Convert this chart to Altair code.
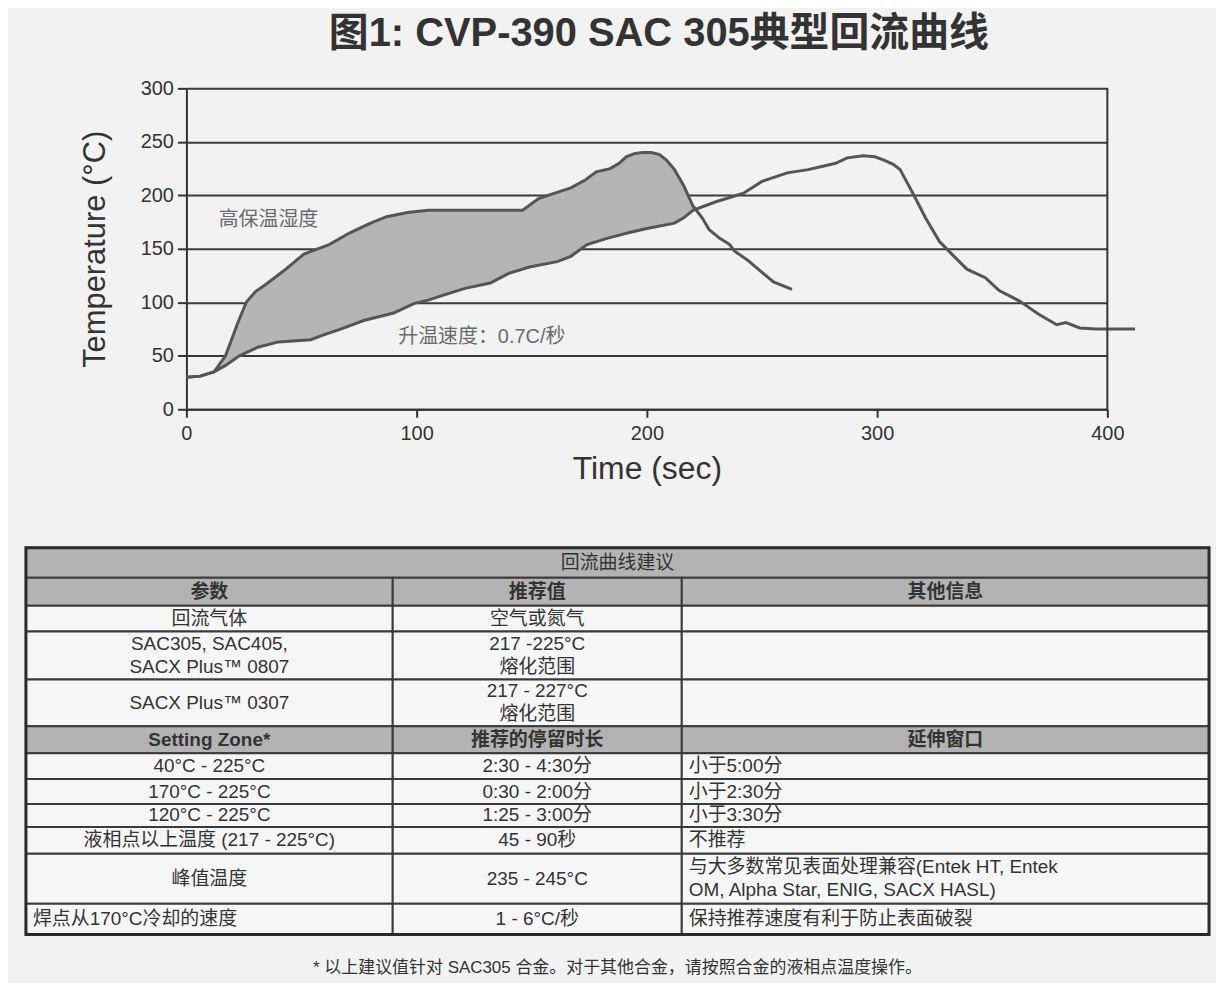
import altair as alt
import pandas as pd

# ------------------------------------------------------------------ data
chart_title = "图1: CVP-390 SAC 305典型回流曲线"
x_title = "Time (sec)"
y_title = "Temperature (°C)"
x_ticks = [0, 100, 200, 300, 400]
y_ticks = [0, 50, 100, 150, 200, 250, 300]

# high-soak profile (upper curve)
upper_time = [0, 6, 12, 17, 22, 26, 30, 34, 42, 51, 62, 71, 80, 87, 96, 105, 125, 146,
              153, 160, 167, 173, 178, 184, 188, 191, 194.5, 198, 202, 205.5, 208.5,
              212, 216, 220, 224, 227, 231.5, 236, 238, 244, 250, 255, 263]
upper_temp = [30, 31, 35, 50, 79, 100, 110, 116, 129, 145, 154, 165, 174, 180, 184, 186,
              186, 186, 197, 202, 207, 214, 222, 225, 230, 236, 239, 240, 240, 238, 233,
              224, 209, 190, 179, 168, 160, 154, 148, 139, 128, 119, 112]

# ramp profile (lower curve)
lower_time = [0, 6, 12, 17, 23, 31, 40, 54, 59, 67, 77, 90, 96, 99, 105, 112, 121, 132,
              140, 149, 161, 167, 174, 183, 192, 200, 212, 216, 220, 230, 236, 242, 250,
              261, 270, 276, 282, 287, 294, 299, 303, 307, 310, 315, 321, 327, 332, 339,
              347, 353, 362, 370, 378, 382, 388, 395, 400, 412]
lower_temp = [30, 31, 35, 41, 50, 58, 63, 65, 69, 75, 83, 90, 96, 99, 102, 107, 113, 118,
              127, 133, 138, 143, 154, 160, 165, 169, 174, 179, 186, 194, 198, 202, 213,
              221, 224, 227, 230, 235, 237, 236, 233, 229, 224, 204, 179, 157, 146, 131,
              123, 111, 101, 89, 79, 81, 76, 75, 75, 75]

# where the two curves cross (end of the shaded window)
cross_time = 221
cross_temp = 187

annot_text = ["高保温湿度", "升温速度：0.7C/秒"]
annot_time = [14, 92]
annot_temp = [177, 68]

table_title = "回流曲线建议"
section1_header = ["参数", "推荐值", "其他信息"]
section1_rows = [
    ["回流气体", "空气或氮气", ""],
    ["SAC305, SAC405,\nSACX Plus™ 0807", "217 -225°C\n熔化范围", ""],
    ["SACX Plus™ 0307", "217 - 227°C\n熔化范围", ""],
]
section2_header = ["Setting Zone*", "推荐的停留时长", "延伸窗口"]
section2_rows = [
    ["40°C - 225°C", "2:30 - 4:30分", "小于5:00分"],
    ["170°C - 225°C", "0:30 - 2:00分", "小于2:30分"],
    ["120°C - 225°C", "1:25 - 3:00分", "小于3:30分"],
    ["液相点以上温度 (217 - 225°C)", "45 - 90秒", "不推荐"],
    ["峰值温度", "235 - 245°C",
     "与大多数常见表面处理兼容(Entek HT, Entek\nOM, Alpha Star, ENIG, SACX HASL)"],
    ["焊点从170°C冷却的速度", "1 - 6°C/秒", "保持推荐速度有利于防止表面破裂"],
]
footnote = "* 以上建议值针对 SAC305 合金。对于其他合金，请按照合金的液相点温度操作。"

# ------------------------------------------------------------------ style / layout
FONT = "Liberation Sans, Noto Sans CJK SC"
INK = "#333333"
BG = "#f2f2f2"
GRAY = "#b3b3b3"
CELL = "#f6f6f6"

col_edges = [0, 368, 658, 1187]          # table column boundaries (px units)
row_heights = [30, 28, 26, 48, 47, 27, 26, 25, 23, 27, 50, 31]
line_step = 23                           # spacing between wrapped lines in a cell
table_left_overhang = 161                # table starts left of the plot origin

# ------------------------------------------------------------------ chart 1
up = pd.DataFrame({"t": upper_time, "T": upper_temp, "curve": "upper"})
lo = pd.DataFrame({"t": lower_time, "T": lower_temp, "curve": "lower"})
curves = pd.concat([up, lo], ignore_index=True)
curves["seq"] = list(range(len(up))) + list(range(len(lo)))

poly = pd.concat([
    up[up.t < cross_time][["t", "T"]],
    pd.DataFrame({"t": [cross_time], "T": [cross_temp]}),
    lo[lo.t < cross_time][["t", "T"]].iloc[::-1],
], ignore_index=True)
poly["seq"] = range(len(poly))

xs = alt.Scale(domain=[0, 400], nice=False, zero=False)
ys = alt.Scale(domain=[0, 300], nice=False)

x_axis = alt.Axis(values=x_ticks, title=x_title, grid=False, labelFont=FONT,
                  labelFontSize=20, labelColor=INK, labelPadding=6, tickSize=8,
                  tickWidth=2, tickColor=INK, domainColor=INK, domainWidth=2,
                  titleFont=FONT, titleFontSize=32, titleFontWeight="normal",
                  titleColor=INK, titlePadding=10, labelFlush=False)
y_axis = alt.Axis(values=y_ticks, title=y_title, grid=True, gridColor="#3a3a3a",
                  gridWidth=2, gridOpacity=1, labelFont=FONT, labelFontSize=20,
                  labelColor=INK, labelPadding=4, tickSize=9, tickWidth=2,
                  tickColor=INK, domainColor=INK, domainWidth=2, titleFont=FONT,
                  titleFontSize=31, titleFontWeight="normal", titleColor=INK,
                  titlePadding=29, labelFlush=False)

fill = alt.Chart(poly).mark_line(fill="#b5b5b5", strokeOpacity=0, fillOpacity=1).encode(
    x=alt.X("t:Q", scale=xs, axis=x_axis),
    y=alt.Y("T:Q", scale=ys, axis=y_axis),
    order="seq:Q",
)

lines = alt.Chart(curves).mark_line(color="#555555", strokeWidth=3).encode(
    x=alt.X("t:Q", scale=xs),
    y=alt.Y("T:Q", scale=ys),
    detail="curve:N",
    order="seq:Q",
)

border = alt.Chart(pd.DataFrame({"t": [400], "lo": [0], "hi": [300]})).mark_rule(
    color=INK, strokeWidth=2).encode(x=alt.X("t:Q", scale=xs), y=alt.Y("lo:Q", scale=ys), y2="hi:Q")

annots = alt.Chart(pd.DataFrame({"t": annot_time, "T": annot_temp, "label": annot_text})).mark_text(
    align="left", baseline="middle", font=FONT, fontSize=20, color="#6a6a6a").encode(
    x=alt.X("t:Q", scale=xs), y=alt.Y("T:Q", scale=ys), text="label:N")

chart1 = alt.layer(fill, lines, border, annots).properties(
    width=924, height=322,
    title=alt.TitleParams(chart_title, font=FONT, fontSize=40, fontWeight="bold",
                          color=INK, offset=24, dx=12, frame="group", anchor="middle"),
)

# ------------------------------------------------------------------ chart 2 (table)
row_tops = [sum(row_heights[:i]) for i in range(len(row_heights))]
table_h = sum(row_heights)

all_rows = ([("title", [table_title]), ("head", section1_header)]
            + [("body1", r) for r in section1_rows]
            + [("head", section2_header)]
            + [("body2", r) for r in section2_rows])


def add_text(target, x, yc, txt):
    parts = txt.split("\n")
    n = len(parts)
    for j, p in enumerate(parts):
        target.append({"x": x, "y": yc + (j - (n - 1) / 2) * line_step, "s": p})


rects, t_center, t_left, t_head, t_title = [], [], [], [], []
last = len(all_rows) - 1
for i, (kind, cells) in enumerate(all_rows):
    y0, y1 = row_tops[i], row_tops[i] + row_heights[i]
    yc = (y0 + y1) / 2
    if kind == "title":
        rects.append({"x0": col_edges[0], "x1": col_edges[-1], "y0": y0, "y1": y1, "k": "g"})
        add_text(t_title, (col_edges[0] + col_edges[-1]) / 2, yc, cells[0])
        continue
    for c, txt in enumerate(cells):
        x0, x1 = col_edges[c], col_edges[c + 1]
        rects.append({"x0": x0, "x1": x1, "y0": y0, "y1": y1,
                      "k": "g" if kind == "head" else "w"})
        if not txt:
            continue
        if kind == "head":
            add_text(t_head, (x0 + x1) / 2, yc, txt)
        elif kind == "body2" and (c == 2 or (i == last and c == 0)):
            add_text(t_left, x0 + 7, yc, txt)
        else:
            add_text(t_center, (x0 + x1) / 2, yc, txt)

tx = alt.Scale(domain=[table_left_overhang, col_edges[-1]], nice=False, zero=False)
ty = alt.Scale(domain=[0, table_h], nice=False, zero=False, reverse=True)

rect_df = pd.DataFrame(rects)
cells_layer = alt.Chart(rect_df).mark_rect(stroke="#3a3a3a", strokeWidth=2).encode(
    x=alt.X("x0:Q", scale=tx, axis=None), x2="x1:Q",
    y=alt.Y("y0:Q", scale=ty, axis=None), y2="y1:Q",
    fill=alt.Fill("k:N", scale=alt.Scale(domain=["g", "w"], range=[GRAY, CELL]), legend=None),
)
outer = alt.Chart(pd.DataFrame({"x0": [col_edges[0]], "x1": [col_edges[-1]],
                                "y0": [0], "y1": [table_h]})).mark_rect(
    fill=None, stroke="#2a2a2a", strokeWidth=3).encode(
    x=alt.X("x0:Q", scale=tx), x2="x1:Q", y=alt.Y("y0:Q", scale=ty), y2="y1:Q")


def text_layer(rows, align, weight="normal", size=19):
    return alt.Chart(pd.DataFrame(rows)).mark_text(
        align=align, baseline="middle", font=FONT, fontSize=size, fontWeight=weight,
        color=INK).encode(
        x=alt.X("x:Q", scale=tx), y=alt.Y("y:Q", scale=ty), text="s:N")


foot = alt.Chart(pd.DataFrame({"x": [(col_edges[0] + col_edges[-1]) / 2],
                               "y": [table_h + 34], "s": [footnote]})).mark_text(
    align="center", baseline="middle", font=FONT, fontSize=17, color=INK).encode(
    x=alt.X("x:Q", scale=tx), y=alt.Y("y:Q", scale=ty), text="s:N")

chart2 = alt.layer(
    cells_layer, outer,
    text_layer(t_title, "center", "normal", 19),
    text_layer(t_head, "center", "bold", 19),
    text_layer(t_center, "center"),
    text_layer(t_left, "left"),
    foot,
).properties(width=col_edges[-1] - table_left_overhang, height=table_h)

chart = alt.vconcat(chart1, chart2, spacing=62).properties(
    background=BG,
    padding={"left": 16, "top": 5, "right": 5, "bottom": 5},
).configure_view(stroke=None)

chart.save("out.html", embed_options={"renderer": "svg", "actions": False})
